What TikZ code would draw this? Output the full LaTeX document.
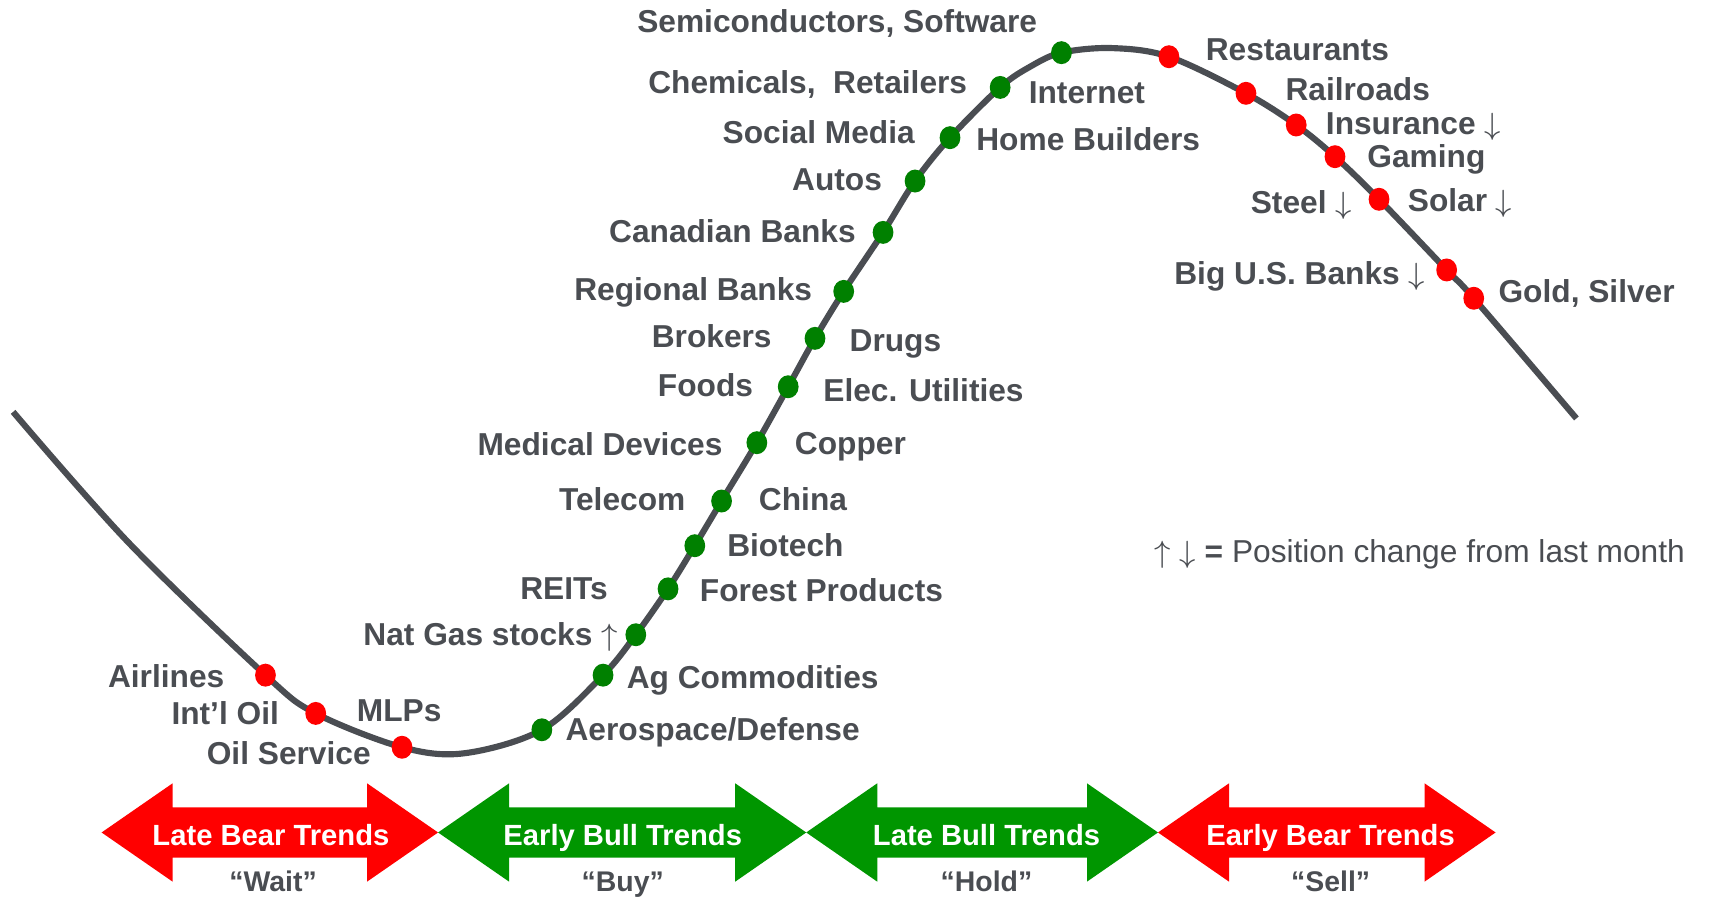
\documentclass[tikz,border=0pt]{standalone}
\usepackage{fontspec}
\setmainfont{Liberation Sans}
\usepackage{tikz}
\usetikzlibrary{shapes.geometric,backgrounds}
\definecolor{slate}{RGB}{74,77,82}
\definecolor{sellred}{RGB}{255,0,0}
\definecolor{buygreen}{RGB}{0,128,0}
\definecolor{bandgreen}{RGB}{0,150,0}
\newcommand{\upmark}{$\uparrow$}
\newcommand{\downmark}{$\downarrow$}

\begin{document}
\begin{tikzpicture}[x=0.01cm, y=-0.01cm,
    sector/.style={font=\fontsize{8.25}{9}\selectfont\bfseries, text=slate,
      inner sep=0pt, text height=0.72em, text depth=0pt, yshift=0.025cm},
    dot/.style={ellipse, inner sep=0pt, minimum width=0.19cm, minimum height=0.21cm},
    bull/.style={dot, fill=buygreen},
    bear/.style={dot, fill=sellred},
    band/.style={font=\fontsize{7.6}{9}\selectfont\bfseries, text=white,
      inner sep=0pt, text height=0.72em, text depth=0pt, yshift=0.03cm},
    call/.style={font=\fontsize{7.4}{9}\selectfont\bfseries, text=slate,
      inner sep=0pt, text height=0.72em, text depth=0pt, yshift=0.03cm}]
  \useasboundingbox (0,0) rectangle (1568,823);

  % sector dots along the cycle
  \foreach \n/\x/\y/\s in {airlines/243/618/bear, intloil/289/653/bear,
      oilsvc/368/684/bear, aero/496/668/bull, agcom/552/618/bull,
      natgas/582/581/bull, forest/611.5/539/bull, biotech/636/499.5/bull,
      china/660.5/458.6/bull, copper/692.8/405.2/bull, elec/721.5/354/bull,
      drugs/746/309.7/bull, regional/772.3/266.7/bull, canadian/808.3/212.7/bull,
      autos/837.6/165.7/bull, social/869.6/126/bull, internet/915.5/80/bull,
      semis/971.6/48.2/bull, restaurants/1070/51.9/bear, railroads/1140.5/85.4/bear,
      insurance/1186.5/114.4/bear, gaming/1222/143.4/bear, solar/1262.3/182.4/bear,
      bigbanks/1324.2/247.1/bear, gold/1349/273/bear}{
    \node[\s] (\n) at (\x,\y) {};
  }

  % the cycle line, behind the dots
  \begin{scope}[on background layer]
    \draw[slate, line width=1.6pt] plot[smooth, tension=0.55] coordinates {
      (12,377) (118,497) (airlines.center) (intloil.center) (oilsvc.center)
      (425,689.5) (aero.center) (agcom.center) (natgas.center) (forest.center)
      (biotech.center) (china.center) (copper.center) (elec.center)
      (drugs.center) (regional.center) (canadian.center) (autos.center)
      (social.center) (internet.center) (943,61) (semis.center) (1018,44)
      (restaurants.center) (railroads.center) (insurance.center)
      (gaming.center) (solar.center) (bigbanks.center) (gold.center) (1443,383)};
  \end{scope}

  % labels
  \node[sector, anchor=east] (lairlines) at (206,619) {Airlines};
  \node[sector, anchor=east] (lintloil) at (256,653) {Int’l Oil};
  \node[sector, anchor=west] (lmlps) at (326,650) {MLPs};
  \node[sector, anchor=east] (loilsvc) at (340,690) {Oil Service};
  \node[sector, anchor=west] (laero) at (517,668) {Aerospace/Defense};
  \node[sector, anchor=west] (lagcom) at (573,620) {Ag Commodities};
  \node[sector, anchor=east] (lnatgas) at (566,581) {Nat Gas stocks \upmark};
  \node[sector, anchor=east] (lreits) at (557,539) {REITs};
  \node[sector, anchor=west] (lforest) at (640,540) {Forest Products};
  \node[sector, anchor=west] (lbiotech) at (665,499) {Biotech};
  \node[sector, anchor=east] (ltelecom) at (628,457) {Telecom};
  \node[sector, anchor=west] (lchina) at (694,457) {China};
  \node[sector, anchor=east] (lmedical) at (662,407) {Medical Devices};
  \node[sector, anchor=west] (lcopper) at (727,406) {Copper};
  \node[sector, anchor=east] (lfoods) at (690,353) {Foods};
  \node[sector, anchor=west] (lelec) at (753,357) {Elec. Utilities};
  \node[sector, anchor=east] (lbrokers) at (707,308) {Brokers};
  \node[sector, anchor=west] (ldrugs) at (777,312) {Drugs};
  \node[sector, anchor=east] (lregional) at (744,265) {Regional Banks};
  \node[sector, anchor=east] (lcanadian) at (784,212) {Canadian Banks};
  \node[sector, anchor=east] (lautos) at (808,164) {Autos};
  \node[sector, anchor=east] (lsocial) at (838,121) {Social Media};
  \node[sector, anchor=west] (lhome) at (893,128) {Home Builders};
  \node[sector, anchor=east] (lchem) at (886,75) {Chemicals,~ Retailers};
  \node[sector, anchor=west] (linternet) at (941,85) {Internet};
  \node[sector, anchor=east] (lsemis) at (950,20) {Semiconductors, Software};
  \node[sector, anchor=west] (lrestaurants) at (1103,45) {Restaurants};
  \node[sector, anchor=west] (lrailroads) at (1176,82) {Railroads};
  \node[sector, anchor=west] (linsurance) at (1213,113) {Insurance \downmark};
  \node[sector, anchor=west] (lgaming) at (1251,143) {Gaming};
  \node[sector, anchor=east] (lsteel) at (1238,185) {Steel \downmark};
  \node[sector, anchor=west] (lsolar) at (1288,183) {Solar \downmark};
  \node[sector, anchor=east] (lbigbanks) at (1305,250) {Big U.S. Banks \downmark};
  \node[sector, anchor=west] (lgold) at (1371,267) {Gold, Silver};

  \node[sector, anchor=west, font=\fontsize{8.25}{9}\selectfont] (legend) at (1056,505)
    {\upmark\ \downmark\ \textbf{=} Position change from last month};

  % trend bands
  \foreach \l/\r/\c in {93/401/sellred, 401/738/bandgreen,
      738/1060/bandgreen, 1060/1369/sellred}{
    \fill[\c] (\l,762) -- (\l+65,717) -- (\l+65,739) -- (\r-65,739) -- (\r-65,717)
      -- (\r,762) -- (\r-65,807) -- (\r-65,785) -- (\l+65,785) -- (\l+65,807) -- cycle;
  }
  \node[band] (latebear) at (248,764) {Late Bear Trends};
  \node[band] (earlybull) at (570,764) {Early Bull Trends};
  \node[band] (latebull) at (903,764) {Late Bull Trends};
  \node[band] (earlybear) at (1218,764) {Early Bear Trends};
  \node[call] (wait) at (250,806) {“Wait”};
  \node[call] (buy) at (570,806) {“Buy”};
  \node[call] (hold) at (903,806) {“Hold”};
  \node[call] (sell) at (1218,806) {“Sell”};
\end{tikzpicture}
\end{document}
